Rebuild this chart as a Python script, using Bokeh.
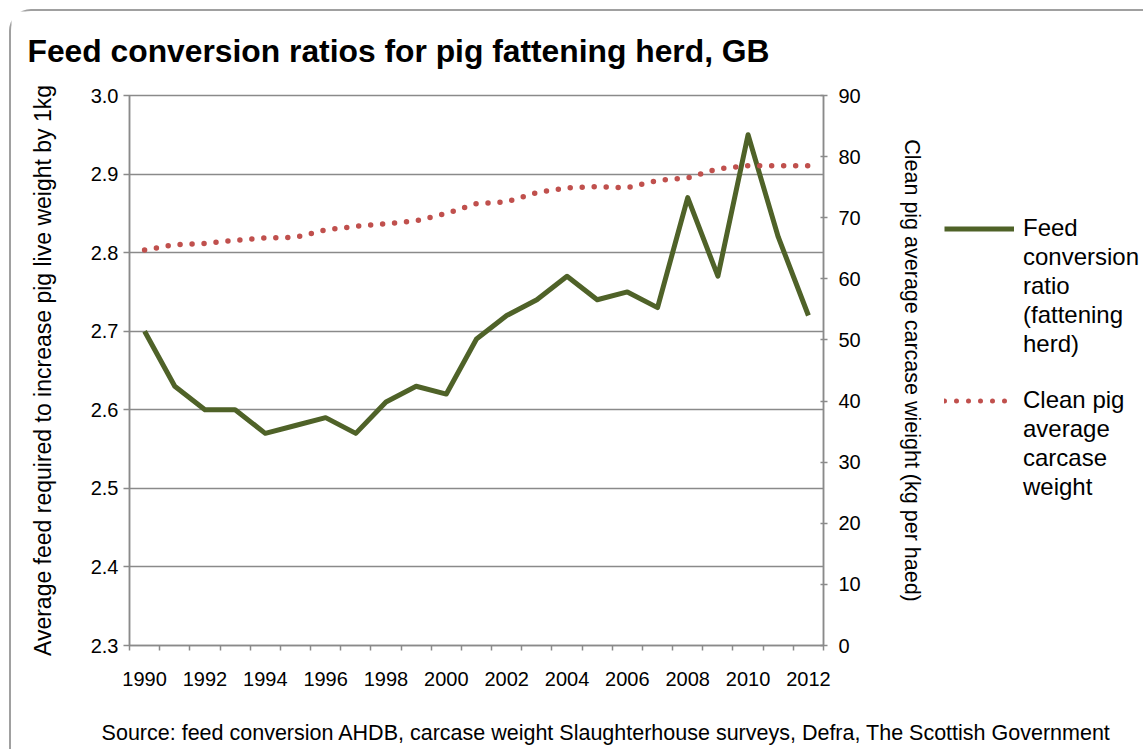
from bokeh.plotting import figure
from bokeh.models import (Range1d, LinearAxis, FixedTicker, Legend, LegendItem, Label)
from bokeh.layouts import column, row
from bokeh.embed import file_html
from bokeh.resources import INLINE

# ---- data ----
years = list(range(1990, 2013))
feed_conversion = [2.70, 2.63, 2.60, 2.60, 2.57, 2.58, 2.59, 2.57, 2.61, 2.63, 2.62, 2.69,
                   2.72, 2.74, 2.77, 2.74, 2.75, 2.73, 2.87, 2.77, 2.95, 2.82, 2.72]
carcase_weight = [64.7, 65.6, 65.8, 66.3, 66.7, 66.8, 68.0, 68.6, 69.0, 69.5, 70.7, 72.3,
                  72.6, 74.1, 74.9, 75.1, 74.9, 76.1, 76.5, 78.0, 78.5, 78.5, 78.5]
year_labels = [str(y) for y in range(1990, 2013, 2)]
left_ticks = [2.3, 2.4, 2.5, 2.6, 2.7, 2.8, 2.9, 3.0]
right_ticks = [0, 10, 20, 30, 40, 50, 60, 70, 80, 90]

title_text = "Feed conversion ratios for pig fattening herd, GB"
source_text = ("Source: feed conversion AHDB, carcase weight Slaughterhouse surveys, "
               "Defra, The Scottish Government")
left_label = "Average feed required to increase pig live weight by 1kg"
right_label = "Clean pig average carcase wieight (kg per haed)"
series1_lines = ["Feed", "conversion", "ratio", "(fattening", "herd)"]
series2_lines = ["Clean pig", "average", "carcase", "weight"]

FONT = "Liberation Sans"
GRAY = "#8a8a8a"
FRAME_GRAY = "#a0a0a0"
GREEN = "#4F6228"
RED = "#C0504D"

# page geometry (pixels from the page's top-left corner)
OX, OY = 11, 11                      # content origin after outer margin + border
TOTAL_W, BOTTOM = 1132, 749
FL, FT, FR, FB = 129, 95, 823, 645   # plot frame
MAIN_TOP, MAIN_BOTTOM, MAIN_RIGHT = 75, 705, 930


def bare_figure(w, h):
    f = figure(width=w, height=h, output_backend="svg", toolbar_location=None,
               x_axis_type=None, y_axis_type=None, min_border=0,
               x_range=Range1d(0, 1), y_range=Range1d(0, 1))
    f.outline_line_color = None
    f.grid.visible = False
    f.background_fill_color = "white"
    f.border_fill_color = "white"
    return f


# ---- title strip ----
tf = bare_figure(TOTAL_W, MAIN_TOP - OY)
tf.add_layout(Label(x=27 - OX, y=MAIN_TOP - 50, x_units="screen", y_units="screen",
                    text=title_text, text_font=FONT, text_font_size="31.8px",
                    text_font_style="bold", text_color="black",
                    text_baseline="middle", text_align="left"))

# ---- main chart ----
W = MAIN_RIGHT - OX
H = MAIN_BOTTOM - MAIN_TOP
p = figure(width=W, height=H, output_backend="svg", toolbar_location=None,
           x_range=Range1d(1989.5, 2012.5), y_range=Range1d(2.3, 3.0),
           min_border_left=FL - OX, min_border_right=MAIN_RIGHT - FR,
           min_border_top=FT - MAIN_TOP, min_border_bottom=MAIN_BOTTOM - FB)
p.extra_y_ranges = {"right": Range1d(0, 90)}
p.background_fill_color = "white"
p.border_fill_color = "white"
p.outline_line_color = GRAY
p.outline_line_width = 1.5
p.xgrid.visible = False
p.ygrid.ticker = FixedTicker(ticks=left_ticks)
p.ygrid.grid_line_color = GRAY
p.ygrid.grid_line_width = 1.5

xa = p.xaxis[0]
xa.ticker = FixedTicker(ticks=[int(s) for s in year_labels],
                        minor_ticks=[years[0] - 0.5 + i for i in range(len(years) + 1)])
xa.major_label_overrides = {int(s): s for s in year_labels}
xa.major_tick_in = 0
xa.major_tick_out = 0
xa.minor_tick_in = 0
xa.minor_tick_out = 5
xa.minor_tick_line_color = GRAY
xa.minor_tick_line_width = 1.5
xa.axis_line_color = GRAY
xa.axis_line_width = 1.5
xa.major_label_standoff = 21
xa.major_label_text_font = FONT
xa.major_label_text_font_size = "20px"
xa.major_label_text_color = "black"

ya = p.yaxis[0]
ya.ticker = FixedTicker(ticks=left_ticks)
ya.major_label_overrides = {t: f"{t:.1f}" for t in left_ticks}
ya.minor_tick_line_color = None
ya.major_tick_in = 0
ya.major_tick_out = 6
ya.major_tick_line_color = GRAY
ya.major_tick_line_width = 1.5
ya.axis_line_color = GRAY
ya.axis_line_width = 1.5
ya.major_label_standoff = 5
ya.major_label_text_font = FONT
ya.major_label_text_font_size = "20px"
ya.major_label_text_color = "black"
ya.axis_label = left_label
ya.axis_label_text_font = FONT
ya.axis_label_text_font_size = "23px"
ya.axis_label_text_font_style = "normal"
ya.axis_label_text_color = "black"
ya.axis_label_standoff = 32

ra = LinearAxis(y_range_name="right", ticker=FixedTicker(ticks=right_ticks))
ra.major_label_overrides = {t: str(t) for t in right_ticks}
ra.minor_tick_line_color = None
ra.major_tick_in = 3
ra.major_tick_out = 4
ra.major_tick_line_color = GRAY
ra.major_tick_line_width = 1.5
ra.axis_line_color = GRAY
ra.axis_line_width = 1.5
ra.major_label_standoff = 11
ra.major_label_text_font = FONT
ra.major_label_text_font_size = "20px"
ra.major_label_text_color = "black"
ra.axis_label = right_label
ra.axis_label_text_font = FONT
ra.axis_label_text_font_size = "21.5px"
ra.axis_label_text_font_style = "normal"
ra.axis_label_text_color = "black"
ra.axis_label_standoff = 36
p.add_layout(ra, "right")

p.line(years, feed_conversion, line_color=GREEN, line_width=5, line_join="round")
p.line(years, carcase_weight, y_range_name="right", line_color=RED, line_width=5.5,
       line_dash="0 12", line_cap="round")

# ---- legend strip (proxy renderers lie outside this strip's 0..1 ranges) ----
LW = OX + TOTAL_W - MAIN_RIGHT
lf = bare_figure(LW, H)
g1 = lf.line(years, feed_conversion, line_color=GREEN, line_width=5)
g2 = lf.line(years, carcase_weight, line_color=RED, line_width=5, line_dash="0 12",
             line_cap="round")
blank = lf.line(years, feed_conversion, line_alpha=0)


def make_legend(lines, glyph, bottom_px):
    items = [LegendItem(label=lines[0], renderers=[glyph])]
    items += [LegendItem(label=t, renderers=[blank]) for t in lines[1:]]
    return Legend(items=items, location=(944 - MAIN_RIGHT, MAIN_BOTTOM - bottom_px),
                  orientation="vertical", glyph_width=70, glyph_height=27,
                  label_height=27, label_standoff=9, label_text_font=FONT,
                  label_text_font_size="24px", label_text_baseline="middle",
                  label_text_color="black", spacing=1, margin=0, padding=10,
                  border_line_color=None, background_fill_alpha=0)


lf.add_layout(make_legend(series1_lines, g1, 418))
lf.add_layout(make_legend(series2_lines, g2, 561))

# ---- source strip ----
sf = bare_figure(TOTAL_W, BOTTOM - MAIN_BOTTOM)
sf.add_layout(Label(x=606 - OX, y=BOTTOM - 732, x_units="screen", y_units="screen",
                    text=source_text, text_font=FONT, text_font_size="21.5px",
                    text_color="black", text_baseline="middle", text_align="center"))

root = column(tf, row(p, lf, spacing=0), sf, spacing=0)
root.margin = (9, 0, 0, 9)
root.styles = {"border-left": f"2px solid {FRAME_GRAY}", "border-top": f"2px solid {FRAME_GRAY}",
               "border-top-left-radius": "22px"}

open("out.html", "w").write(file_html(root, INLINE))
